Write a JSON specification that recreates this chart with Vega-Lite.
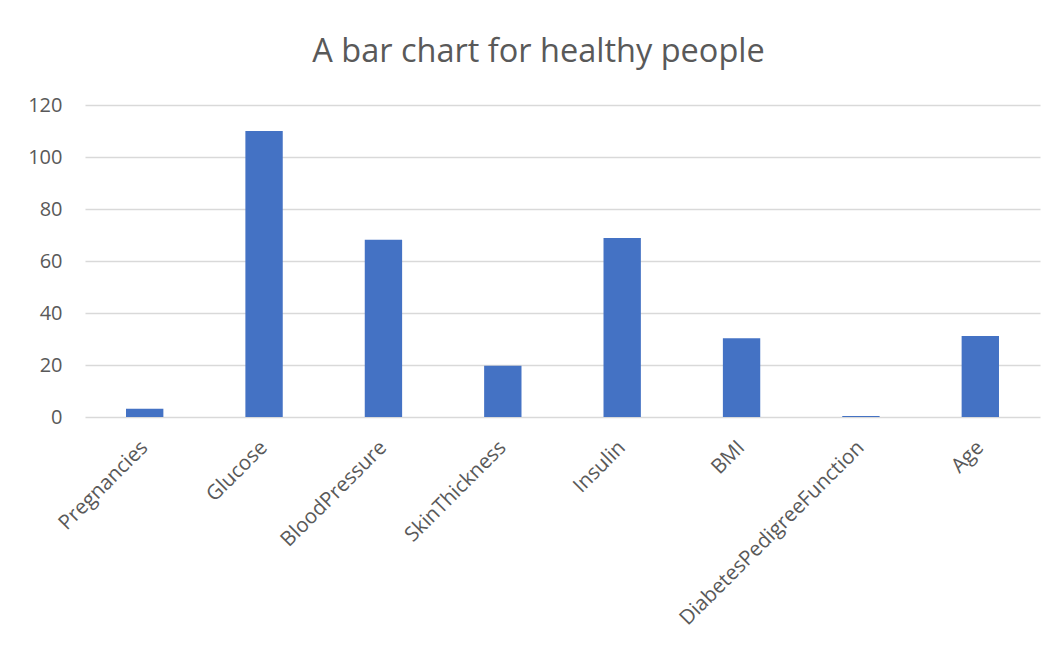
{
  "$schema": "https://vega.github.io/schema/vega-lite/v6.json",
  "autosize": {"type": "none"},
  "padding": {"left": 85, "top": 105, "right": 19, "bottom": 231},
  "width": 955,
  "height": 312,
  "background": "#ffffff",
  "title": {
    "text": "A bar chart for healthy people",
    "font": "Open Sans",
    "fontSize": 32.5,
    "fontWeight": "normal",
    "color": "#595959",
    "anchor": "middle",
    "dx": -24,
    "offset": 27
  },
  "data": {
    "values": [
      {"feature": "Pregnancies", "mean": 3.2},
      {"feature": "Glucose", "mean": 110.0},
      {"feature": "BloodPressure", "mean": 68.2},
      {"feature": "SkinThickness", "mean": 19.7},
      {"feature": "Insulin", "mean": 68.8},
      {"feature": "BMI", "mean": 30.3},
      {"feature": "DiabetesPedigreeFunction", "mean": 0.43},
      {"feature": "Age", "mean": 31.2}
    ]
  },
  "mark": {"type": "bar", "color": "#4472C4"},
  "encoding": {
    "x": {
      "field": "feature",
      "type": "nominal",
      "sort": null,
      "title": null,
      "scale": {"paddingInner": 0.687, "paddingOuter": 0.3435},
      "axis": {
        "labelAngle": -45,
        "labelAlign": "right",
        "labelBaseline": "top",
        "labelFont": "Open Sans",
        "labelFontSize": 20.5,
        "labelColor": "#595959",
        "labelPadding": 20,
        "labelOffset": -7,
        "labelLimit": 0,
        "ticks": false,
        "domain": false,
        "grid": false
      }
    },
    "y": {
      "field": "mean",
      "type": "quantitative",
      "title": null,
      "scale": {"domain": [0, 120]},
      "axis": {
        "values": [0, 20, 40, 60, 80, 100, 120],
        "labelFont": "Open Sans",
        "labelFontSize": 20,
        "labelColor": "#595959",
        "labelPadding": 23,
        "ticks": false,
        "domain": false,
        "gridColor": "#d9d9d9",
        "gridWidth": 1.3
      }
    }
  },
  "config": {
    "view": {"stroke": null}
  }
}
